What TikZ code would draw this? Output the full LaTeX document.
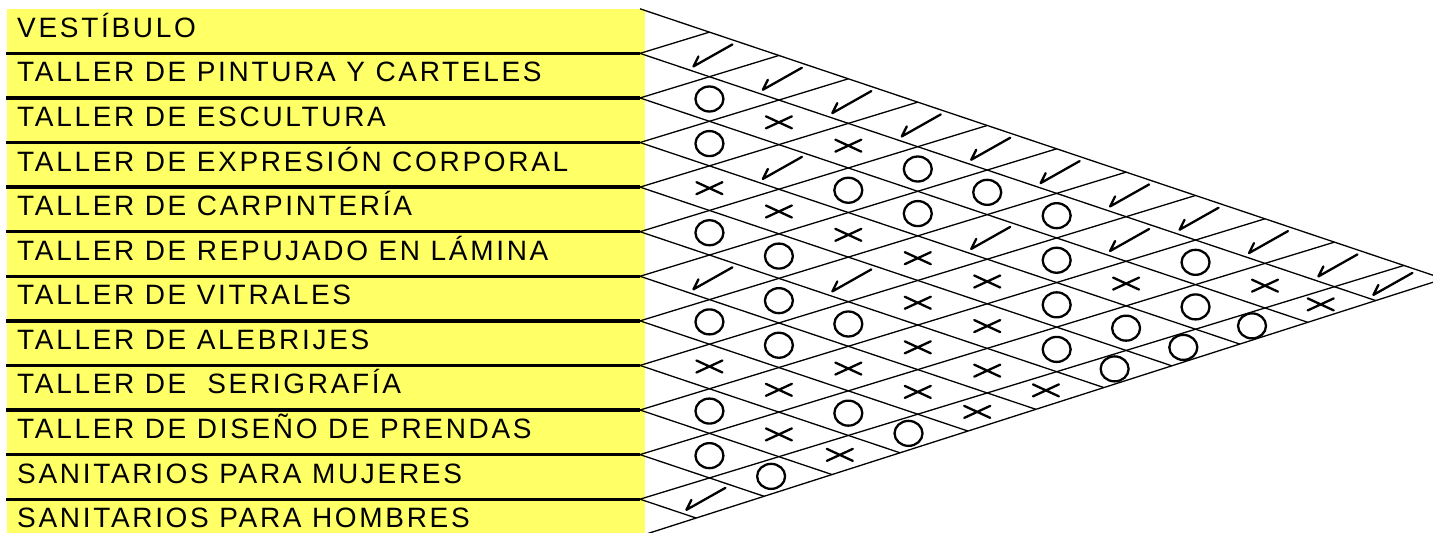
\documentclass[tikz,border=0pt]{standalone}
\usepackage{fontspec}
\newfontfamily\lblfont[LetterSpace=9.6]{Liberation Sans}
\definecolor{rowyellow}{RGB}{255,255,102}
\tikzset{
  gridline/.style={line width=1.3pt, black},
  sepline/.style={line width=3.5pt, black},
  mk/.style={line width=2.3pt, black, line cap=round, line join=round},
  lbl/.style={anchor=base west, inner sep=0pt, font=\lblfont\fontsize{28}{30}\selectfont},
  chk/.pic={\draw[mk] (20,-11) -- (-19,11) -- (-14,1);},
  ring/.pic={\draw[mk] (0,0) ellipse [x radius=14, y radius=12.5];},
  crs/.pic={\draw[mk] (-13,-6) -- (13,6) (-13,6) -- (13,-6);}
}
\begin{document}
\begin{tikzpicture}[x=1pt,y=-1pt,
  declare function={
    ty(\k)=(\k<12)*(8.8+44.58*\k)+(\k>11)*536;
    su(\m)=(\m<12)*0.306+(\m>11)*0.32;
    vx(\k,\m)=640+(ty(\m)-ty(\k))/(0.336+su(\m));
    vy(\k,\m)=ty(\k)+0.336*(vx(\k,\m)-640);
    cx(\i,\j)=(vx(\i,\j)+vx(\i+1,\j+1)+vx(\i,\j+1)+vx(\i+1,\j))/4;
    cy(\i,\j)=(vy(\i,\j)+vy(\i+1,\j+1)+vy(\i,\j+1)+vy(\i+1,\j))/4;
  }]
\useasboundingbox (0,0) rectangle (1433,533);
\fill[white] (0,0) rectangle (1433,533);
% yellow label column
\fill[rowyellow] (7,9.3) rectangle (645,533);
% separators
\foreach \k in {0,...,10}{
  \coordinate (SL\k) at (6,{53.3+44.6*\k});
  \coordinate (SR\k) at (640,{53.3+44.6*\k});
  \draw[sepline] (SL\k) -- (SR\k);
}
% labels
\foreach \r/\t in {0/VESTÍBULO,1/TALLER DE PINTURA Y CARTELES,2/TALLER DE ESCULTURA,3/TALLER DE EXPRESIÓN CORPORAL,4/TALLER DE CARPINTERÍA,5/TALLER DE REPUJADO EN LÁMINA,6/TALLER DE VITRALES,7/TALLER DE ALEBRIJES,8/TALLER DE\ \ SERIGRAFÍA,9/TALLER DE DISEÑO DE PRENDAS,10/SANITARIOS PARA MUJERES,11/SANITARIOS PARA HOMBRES}{
  \node[lbl] (label\r) at (17,{8.8+44.58*\r+28.5}) {\t};
}
% grid: down lines from each tip to the lower edge, up lines to the upper edge
\foreach \k in {0,...,11}{
  \coordinate (TD\k) at (640,{ty(\k)});
  \coordinate (ED\k) at ({vx(\k,12)},{vy(\k,12)});
  \draw[gridline] (TD\k) -- (ED\k);
}
\foreach \m in {1,...,12}{
  \coordinate (TU\m) at (640,{ty(\m)});
  \coordinate (EU\m) at ({vx(0,\m)},{vy(0,\m)});
  \draw[gridline] (TU\m) -- (EU\m);
}
% marks
\foreach \i/\j in {0/1,0/2,0/3,0/4,0/5,0/6,0/7,0/8,0/9,0/10,0/11,2/4,2/7,1/8,5/6,4/7,10/11}{
  \pic at ({cx(\i,\j)+3},{cy(\i,\j)+1}) {chk};
}
\foreach \i/\j in {1/2,2/3,1/5,2/5,1/6,2/6,1/7,4/5,4/6,2/8,1/9,5/7,3/9,2/10,6/7,5/8,3/10,2/11,6/8,4/10,3/11,4/11,8/9,7/10,7/11,9/10,9/11}{
  \pic at ({cx(\i,\j)},{cy(\i,\j)}) {ring};
}
\foreach \i/\j in {1/3,1/4,3/4,3/5,3/6,3/7,3/8,2/9,1/10,4/8,1/11,4/9,5/9,7/8,6/9,5/10,7/9,6/10,5/11,6/11,8/10,8/11}{
  \pic at ({cx(\i,\j)},{cy(\i,\j)}) {crs};
}
\end{tikzpicture}
\end{document}
